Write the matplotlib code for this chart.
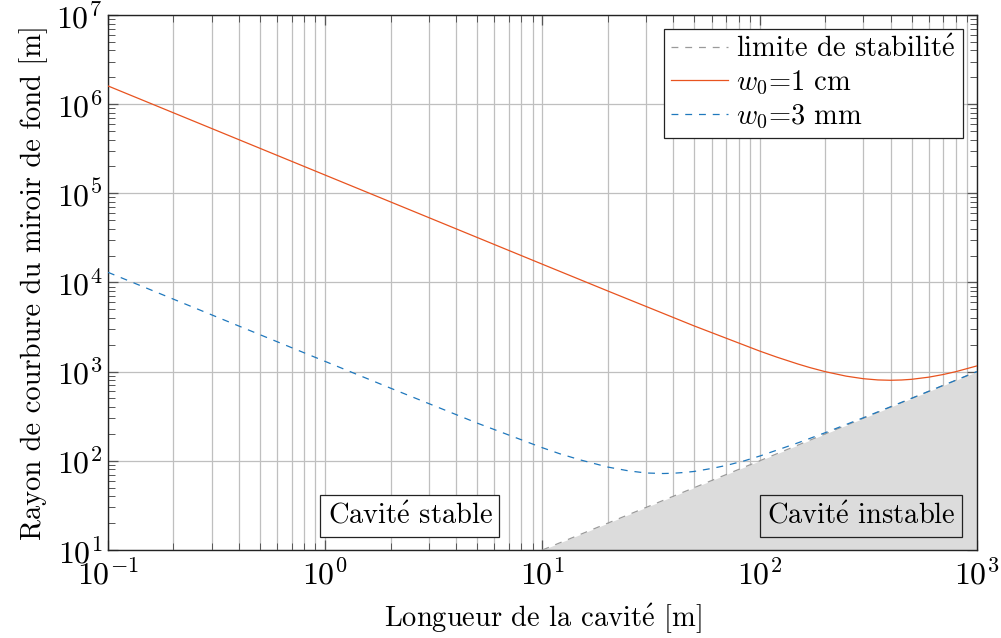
import matplotlib
matplotlib.use("Agg")
import matplotlib.pyplot as plt
from matplotlib.ticker import LogLocator, NullFormatter

plt.rcParams['font.family'] = ['cmr10', 'DejaVu Serif']
plt.rcParams['mathtext.fontset'] = 'cm'
plt.rcParams['axes.formatter.use_mathtext'] = True
plt.rcParams['axes.unicode_minus'] = False

# Data
L_w1cm = [0.1, 0.2, 0.5, 1, 2, 5, 10, 20, 50, 100, 120, 150, 170, 200, 250, 300, 350,
          400, 450, 500, 600, 700, 800, 1000]
R_w1cm = [1.6e6, 8.0e5, 3.2e5, 1.6e5, 8.0e4, 3.2e4, 1.6e4, 8020, 3250, 1700, 1453,
          1217, 1111, 1000, 890, 833, 807, 800, 806, 820, 867, 929, 1000, 1160]
L_w3mm = [0.1, 0.2, 0.5, 1, 2, 5, 10, 12, 15, 20, 25, 30, 36, 40, 45, 50, 60, 70,
          85, 100, 150, 200, 300, 500, 700, 1000]
R_w3mm = [13000, 6500, 2600, 1301, 652, 265, 140, 120, 102, 85, 77, 73, 72, 72.5, 74,
          76, 82, 88.6, 100, 113, 159, 206.5, 304, 502.6, 702, 1001.3]
L_limit = [10, 1000]
R_limit = [10, 1000]

E = r'$\mathrm{\acute{e}}$'
labels = ['limite de stabilit' + E, r'$w_0$=1 cm', r'$w_0$=3 mm']

fig = plt.figure(figsize=(10.01, 6.38), dpi=100)
ax = fig.add_axes([0.1079, 0.138, 0.8681, 0.8385])

ax.set_xscale('log')
ax.set_yscale('log')
ax.set_xlim(0.1, 1000)
ax.set_ylim(10, 1e7)

ax.fill_between(L_limit, [10, 10], R_limit, color='#dcdcdc', zorder=1, linewidth=0)
ax.plot(L_limit, R_limit, color='#9a9a9a', ls=(0, (5.5, 5.5)), lw=0.9, zorder=3, label=labels[0])
ax.plot(L_w1cm, R_w1cm, color='#e8531f', lw=0.9, zorder=3, label=labels[1])
ax.plot(L_w3mm, R_w3mm, color='#1f78bd', ls=(0, (5.5, 5.5)), lw=0.9, zorder=3, label=labels[2])

ax.xaxis.set_major_locator(LogLocator(base=10, numticks=10))
ax.xaxis.set_minor_locator(LogLocator(base=10, subs=range(2, 10), numticks=20))
ax.yaxis.set_major_locator(LogLocator(base=10, numticks=10))
ax.yaxis.set_minor_locator(LogLocator(base=10, subs=range(2, 10), numticks=20))
ax.xaxis.set_minor_formatter(NullFormatter())
ax.yaxis.set_minor_formatter(NullFormatter())

ax.grid(True, which='major', axis='both', color='#bfbfbf', lw=0.9, zorder=0)
ax.grid(True, which='minor', axis='x', color='#bfbfbf', lw=0.9, zorder=0)
ax.set_axisbelow(True)

ax.tick_params(which='both', direction='in', top=True, right=True, labelsize=23, color='#555555')
ax.tick_params(which='major', length=7, width=0.9)
ax.tick_params(which='minor', length=5, width=0.7)
ax.tick_params(axis='x', which='major', pad=6)
ax.tick_params(axis='y', which='major', pad=4)
for s in ax.spines.values():
    s.set_linewidth(1.0)
    s.set_color('#222222')

ax.set_xlabel('Longueur de la cavit' + E + ' [m]', fontsize=20.5, labelpad=8)
ax.set_ylabel('Rayon de courbure du miroir de fond [m]', fontsize=20.5, labelpad=6)

leg = ax.legend(loc='upper right', fontsize=20.5, frameon=True, fancybox=False,
                edgecolor='#222222', framealpha=1, borderpad=0.25, labelspacing=0.2,
                handlelength=2.0, handletextpad=0.3, borderaxespad=0.5)
leg.get_frame().set_linewidth(0.9)

ax.text(0.3475, 0.0636, 'Cavit' + E + ' stable', transform=ax.transAxes, fontsize=20.5,
        ha='center', va='center', zorder=5,
        bbox=dict(boxstyle='square,pad=0.25', fc='white', ec='#222222', lw=0.9))
ax.text(0.8665, 0.0636, 'Cavit' + E + ' instable', transform=ax.transAxes, fontsize=20.5,
        ha='center', va='center', zorder=5,
        bbox=dict(boxstyle='square,pad=0.25', fc='#dcdcdc', ec='#222222', lw=0.9))

fig.savefig('out.png', dpi=100)
